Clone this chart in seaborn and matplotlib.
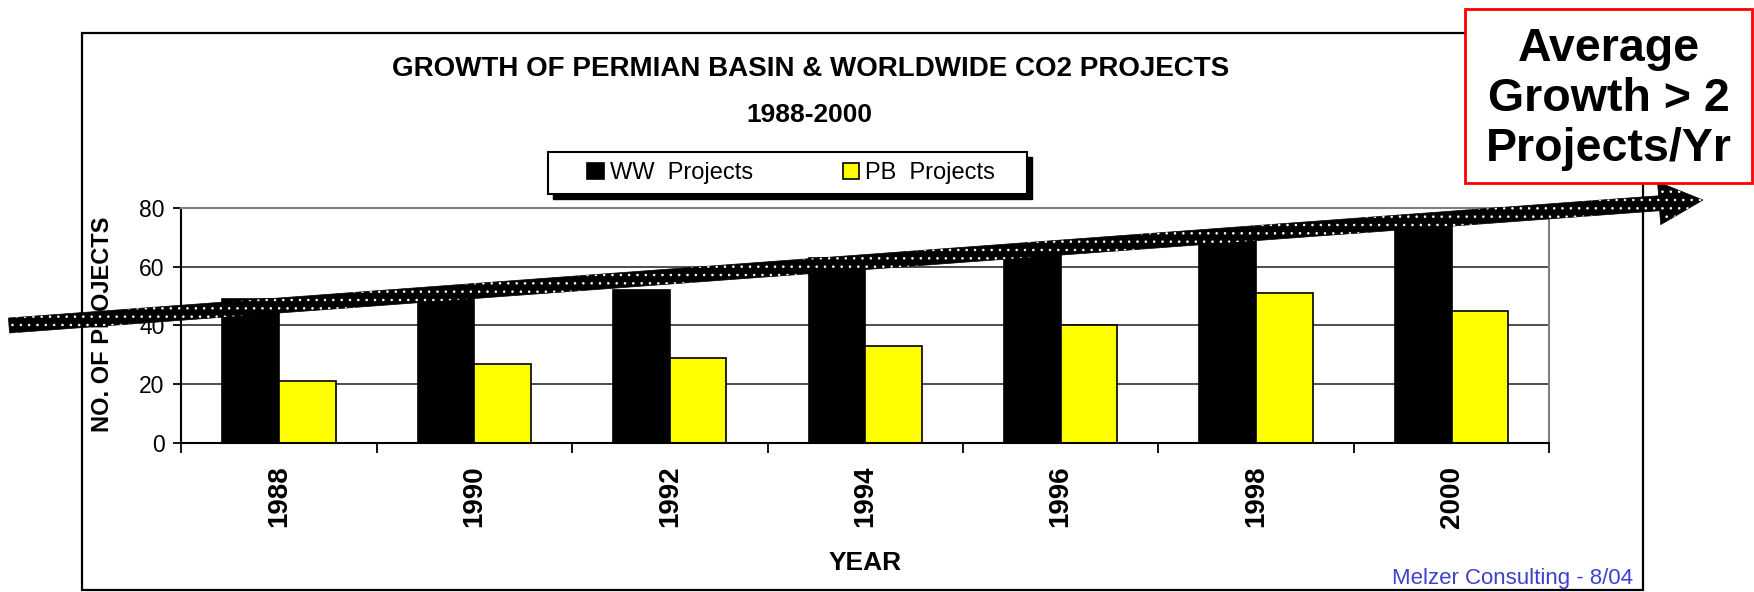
import numpy as np
import pandas as pd
import seaborn as sns
import matplotlib.pyplot as plt
from matplotlib.patches import FancyArrow, Rectangle
from matplotlib.ticker import FixedLocator, FixedFormatter, NullFormatter

# data
years = ["1988", "1990", "1992", "1994", "1996", "1998", "2000"]
ww_projects = [49, 51, 52, 63, 66, 70, 74]
pb_projects = [21, 27, 29, 33, 40, 51, 45]
series_names = ["WW  Projects", "PB  Projects"]
series_colors = ["#000000", "#FFFF00"]
y_ticks = [0, 20, 40, 60, 80]

title = "GROWTH OF PERMIAN BASIN & WORLDWIDE CO2 PROJECTS"
subtitle = "1988-2000"
note = "Average\nGrowth > 2\nProjects/Yr"
credit = "Melzer Consulting - 8/04"

W, H = 1754, 592

df = pd.DataFrame({
    "year": years * 2,
    "projects": ww_projects + pb_projects,
    "series": [series_names[0]] * len(years) + [series_names[1]] * len(years),
})

sns.set_theme(style="white")
plt.rcParams["font.family"] = ["Liberation Sans", "DejaVu Sans"]
plt.rcParams["text.color"] = "black"
plt.rcParams["axes.labelcolor"] = "black"
plt.rcParams["xtick.color"] = "black"
plt.rcParams["ytick.color"] = "black"
plt.rcParams["hatch.linewidth"] = 0.6

fig = plt.figure(figsize=(W / 100, H / 100), dpi=100)
fig.patch.set_facecolor("white")
ax = fig.add_axes([0.1033, 0.2512, 0.78, 0.398])

sns.barplot(data=df, x="year", y="projects", hue="series", palette=series_colors,
            width=0.58, saturation=1, edgecolor="black", linewidth=1.2, ax=ax)

handles, labels = ax.get_legend_handles_labels()
ax.get_legend().remove()

# axes styling
ax.set_ylim(0, 80)
ax.set_xlim(-0.5, len(years) - 0.5)
ax.yaxis.set_major_locator(FixedLocator(y_ticks))
ax.xaxis.set_major_locator(FixedLocator(np.arange(len(years) + 1) - 0.5))
ax.xaxis.set_major_formatter(NullFormatter())
ax.xaxis.set_minor_locator(FixedLocator(np.arange(len(years))))
ax.xaxis.set_minor_formatter(FixedFormatter(years))
ax.tick_params(axis="x", which="major", direction="out", length=7, width=1.3,
               color="black", bottom=True)
ax.tick_params(axis="x", which="minor", length=0, pad=16, labelsize=20,
               labelrotation=90, bottom=True)
ax.tick_params(axis="y", direction="out", length=6, width=1.3, color="black",
               left=True, pad=6, labelsize=16.5)
for t in ax.get_xticklabels(minor=True):
    t.set_fontweight("bold")

ax.grid(axis="y", color="#303030", linewidth=1.2)
ax.grid(axis="x", visible=False)
ax.set_axisbelow(True)
for side in ["left", "bottom"]:
    ax.spines[side].set_color("black")
    ax.spines[side].set_linewidth(1.5)
for side in ["top", "right"]:
    ax.spines[side].set_color("#808080")
    ax.spines[side].set_linewidth(1.5)

ax.set_ylabel("NO. OF PROJECTS", fontsize=17, fontweight="bold")
ax.yaxis.set_label_coords(0.065, 0.452, transform=fig.transFigure)
ax.set_xlabel("YEAR", fontsize=19, fontweight="bold")
ax.xaxis.set_label_coords(0.493, 0.049, transform=fig.transFigure)
ax.xaxis.label.set_verticalalignment("center")

fig.text(0.4624, 0.883, title, ha="center", va="center", fontsize=20, fontweight="bold")
fig.text(0.4615, 0.805, subtitle, ha="center", va="center", fontsize=19, fontweight="bold")
fig.text(0.931, 0.0236, credit, ha="right", va="center", fontsize=16, color="#3f3fd0")

# legend entries; the box with its shadow is drawn on the overlay below
leg = fig.legend(handles, labels, loc="center", bbox_to_anchor=(0.451, 0.7075),
                 ncol=2, frameon=False, fontsize=17, handlelength=0.7,
                 handleheight=0.7, handletextpad=0.25, columnspacing=3.8,
                 borderpad=0.3)

# overlay in pixel coordinates for frame, legend box, arrow and note box
ov = fig.add_axes([0, 0, 1, 1], zorder=5)
ov.set_xlim(0, W)
ov.set_ylim(H, 0)
ov.axis("off")
ov.patch.set_alpha(0)

ov.add_patch(Rectangle((82, 33), 1643 - 82, 590 - 33, fill=False,
                       edgecolor="black", linewidth=1.6))

lx0, ly0, lx1, ly1 = 548, 152, 1027, 194
ov.add_patch(Rectangle((lx0 + 5, ly0 + 5), lx1 - lx0, ly1 - ly0,
                       facecolor="black", edgecolor="black", linewidth=1))
ov.add_patch(Rectangle((lx0, ly0), lx1 - lx0, ly1 - ly0,
                       facecolor="white", edgecolor="black", linewidth=1.5))

x0, y0, x1, y1 = 9, 325.5, 1703, 200
arrow_kw = dict(width=15, head_width=43, head_length=44, length_includes_head=True)
ov.add_patch(FancyArrow(x0, y0, x1 - x0, y1 - y0, facecolor="black",
                        edgecolor="black", linewidth=0.5, **arrow_kw))
ov.add_patch(FancyArrow(x0, y0, x1 - x0, y1 - y0, facecolor="none",
                        edgecolor="white", linewidth=0, hatch="..", **arrow_kw))

ov.add_patch(Rectangle((1465, 9), 1752 - 1465, 183 - 9, facecolor="white",
                       edgecolor="red", linewidth=2, zorder=6))
ov.text((1465 + 1752) / 2, (9 + 183) / 2 + 3, note, ha="center", va="center",
        fontsize=33.5, fontweight="bold", linespacing=1.17, zorder=7)

fig.savefig("out.png", dpi=100)
